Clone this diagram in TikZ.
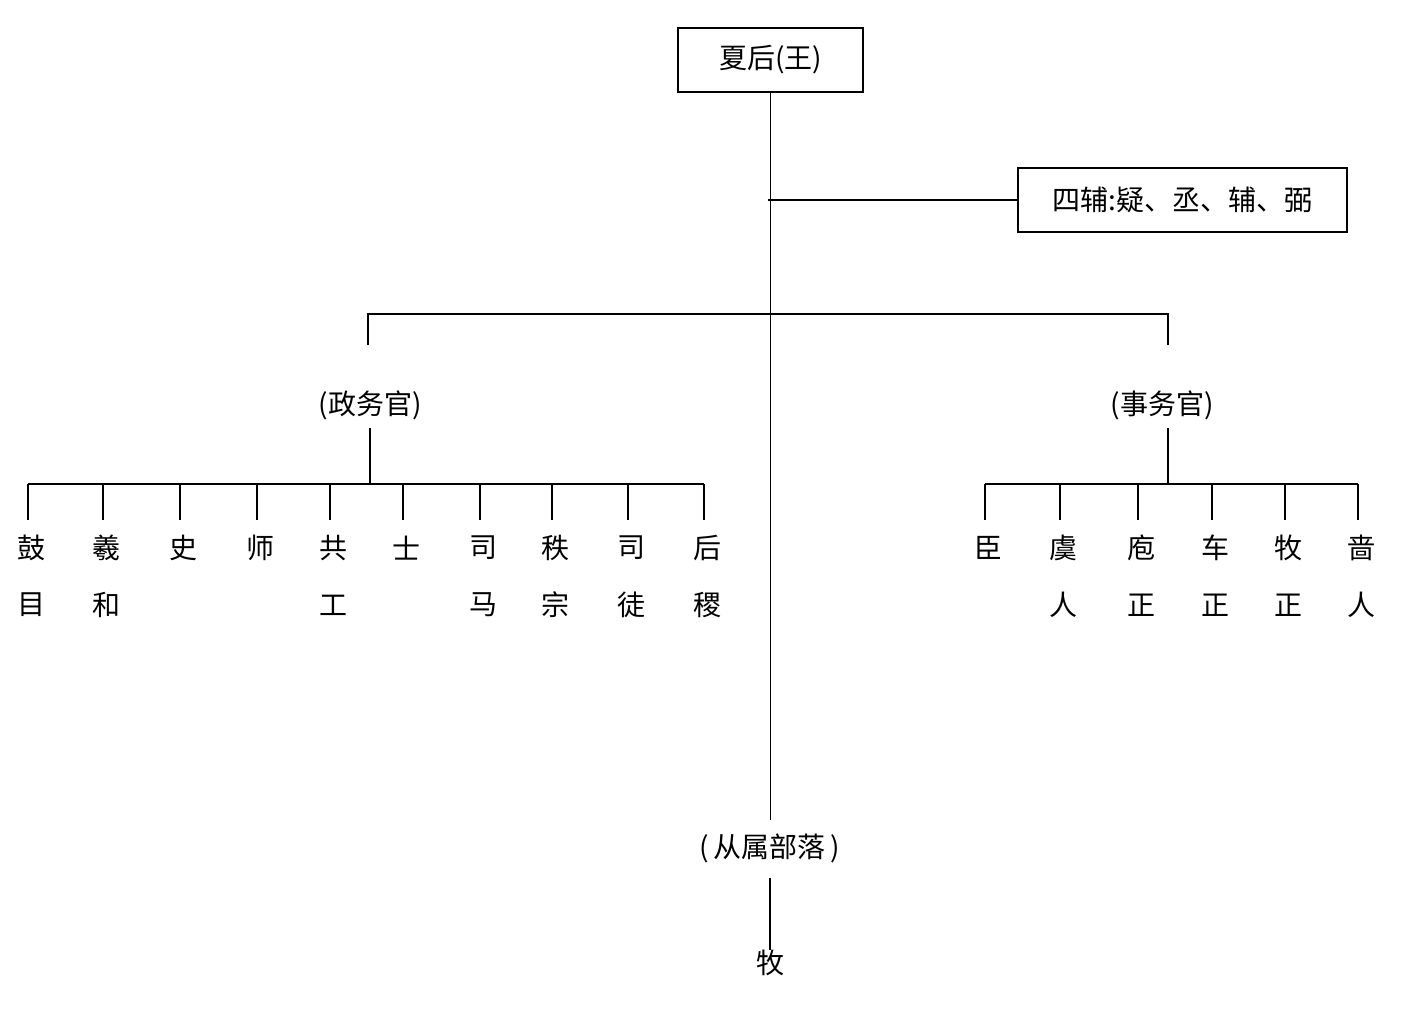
\documentclass[tikz,border=0pt]{standalone}
\usepackage{fontspec}
\newfontfamily\cjk{Noto Sans CJK SC}
\begin{document}
\begin{tikzpicture}[x=1pt,y=-1pt,
  ln/.style={line width=1.3pt},
  bx/.style={draw,line width=1.2pt,inner sep=0pt,font=\cjk\fontsize{28}{30}\selectfont},
  tx/.style={inner sep=0pt,font=\cjk\fontsize{28}{30}\selectfont}]
\useasboundingbox (0,0) rectangle (1425,1015);
\node[bx,minimum width=185pt,minimum height=64pt] (king) at (770.5,60) {夏后(王)};
\node[bx,minimum width=329pt,minimum height=64pt] (fu) at (1182.5,200) {四辅:疑、丞、辅、弼};
\coordinate (c1) at (768,200);
\coordinate (bot) at (768,820);
\draw[ln] (king.south) -- (king.south |- bot);
\draw[ln] (c1) -- (fu.west);
\node[tx] (zw) at (370,405) {(政务官)};
\node[tx] (sw) at (1162,405) {(事务官)};
\node[tx] (cs) at (770,848) {(\,从属部落\,)};
\node[tx] (mu) at (770,963) {牧};
\draw[ln] (368,345) -- (368,314) -- (1168,314) -- (1168,345);
\draw[ln] (370,428) -- (370,484);
\draw[ln] (28,484) -- (704,484);
\draw[ln] (1168,428) -- (1168,484);
\draw[ln] (985,484) -- (1358,484);
\draw[ln] (770,878) -- (mu.north);
\foreach \x/\a/\b [count=\i] in {28/鼓/目,103/羲/和,180/史/,257/师/,330/共/工,403/士/,480/司/马,552/秩/宗,628/司/徒,704/后/稷}{
  \draw[ln] (\x,484) -- (\x,520);
  \node[tx] (l\i a) at (\x+3,548) {\a};
  \node[tx] (l\i b) at (\x+3,605) {\b};
}
\foreach \x/\a/\b [count=\i] in {985/臣/,1060/虞/人,1138/庖/正,1212/车/正,1285/牧/正,1358/啬/人}{
  \draw[ln] (\x,484) -- (\x,520);
  \node[tx] (r\i a) at (\x+3,548) {\a};
  \node[tx] (r\i b) at (\x+3,605) {\b};
}
\end{tikzpicture}
\end{document}
